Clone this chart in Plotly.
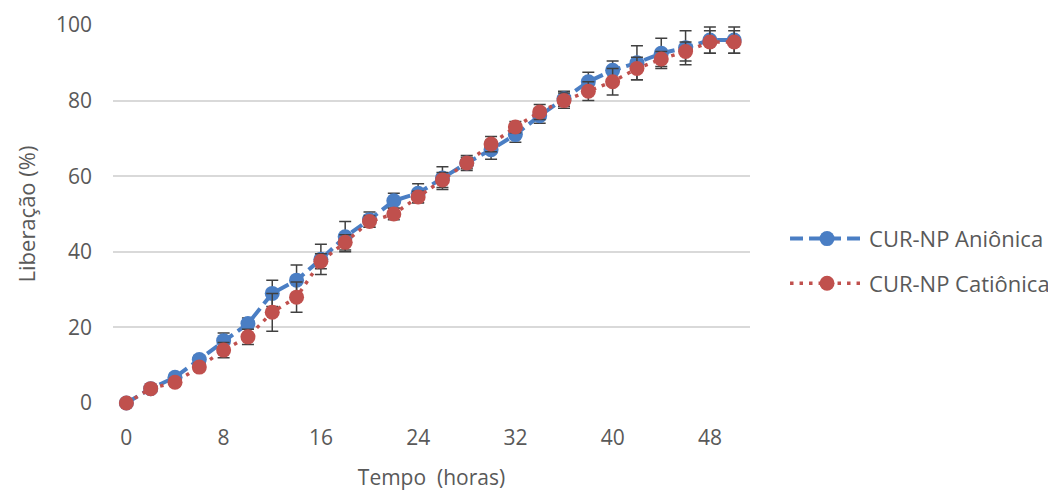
import plotly.graph_objects as go

tempo = [0, 2, 4, 6, 8, 10, 12, 14, 16, 18, 20, 22, 24, 26, 28, 30, 32, 34, 36, 38, 40, 42, 44, 46, 48, 50]

anionica = [0, 3.8, 6.8, 11.5, 16.5, 21, 29, 32.5, 38, 44, 48.5, 53.5, 55.5, 59.5, 63.5, 67, 71, 76, 80.5, 85, 88, 90, 92.5, 94, 96, 96]
anionica_err = [0, 0.5, 1, 1, 2, 1.5, 3.5, 4, 4, 4, 2, 2, 2.5, 3, 2, 2.5, 2, 2, 2, 2.5, 2.5, 4.5, 4, 4.5, 3.5, 3.5]

cationica = [0, 3.8, 5.5, 9.5, 14, 17.5, 24, 28, 37.5, 42.5, 48, 50, 54.5, 59, 63.5, 68.5, 73, 77, 80, 82.5, 85, 88.5, 91, 93, 95.5, 95.5]
cationica_err = [0, 0.5, 1, 1, 2, 2, 5, 4, 2, 2, 1.5, 1.5, 1.5, 2, 1.5, 2, 1.5, 2, 2, 2.5, 3.5, 3, 2, 2.5, 3, 3]

x_ticks = [0, 8, 16, 24, 32, 40, 48]
y_ticks = [0, 20, 40, 60, 80, 100]

BLUE = "#4A7EC4"
RED = "#C0504D"
ERR = "#404040"
TXT = "#595959"
FONT = "Open Sans"
FS = 21

fig = go.Figure()
fig.add_trace(go.Scatter(
    x=tempo, y=anionica, name="CUR-NP Aniônica", mode="lines+markers",
    line=dict(color=BLUE, width=4, dash="13px,6px"),
    marker=dict(color=BLUE, size=15),
    error_y=dict(type="data", array=anionica_err, color=ERR, thickness=1.5, width=6),
    cliponaxis=False, legendgroup="a",
))
fig.add_trace(go.Scatter(
    x=tempo, y=cationica, name="CUR-NP Catiônica", mode="lines+markers",
    line=dict(color=RED, width=3.5, dash="3.5px,6px"),
    marker=dict(color=RED, size=15),
    error_y=dict(type="data", array=cationica_err, color=ERR, thickness=1.5, width=6),
    cliponaxis=False, legendgroup="b",
))

fig.update_layout(
    width=1048, height=484,
    margin=dict(l=105, r=306, t=17, b=89, autoexpand=False),
    paper_bgcolor="white", plot_bgcolor="white",
    font=dict(family=FONT, size=FS, color=TXT),
    showlegend=True,
    legend=dict(x=1.055, y=0.49, xanchor="left", yanchor="top",
                font=dict(family=FONT, size=22, color=TXT),
                tracegroupgap=13, itemwidth=74, bgcolor="rgba(0,0,0,0)"),
    xaxis=dict(range=[-1.1, 51.3], tickvals=x_ticks, showgrid=False, zeroline=False,
               showline=False, ticks="", ticklabelstandoff=20, automargin=False,
               title=dict(text="Tempo  (horas)", standoff=20,
                          font=dict(family=FONT, size=FS, color=TXT)),
               tickfont=dict(family=FONT, size=FS, color=TXT)),
    yaxis=dict(range=[0, 100], tickvals=y_ticks, showgrid=True, gridcolor="#D9D9D9",
               gridwidth=1.5, zeroline=False, showline=False, ticks="",
               ticklabelstandoff=20, automargin=False,
               title=dict(text="Liberação (%)", standoff=14,
                          font=dict(family=FONT, size=FS + 1, color=TXT)),
               tickfont=dict(family=FONT, size=FS, color=TXT)),
)

fig.write_html("out.html")
